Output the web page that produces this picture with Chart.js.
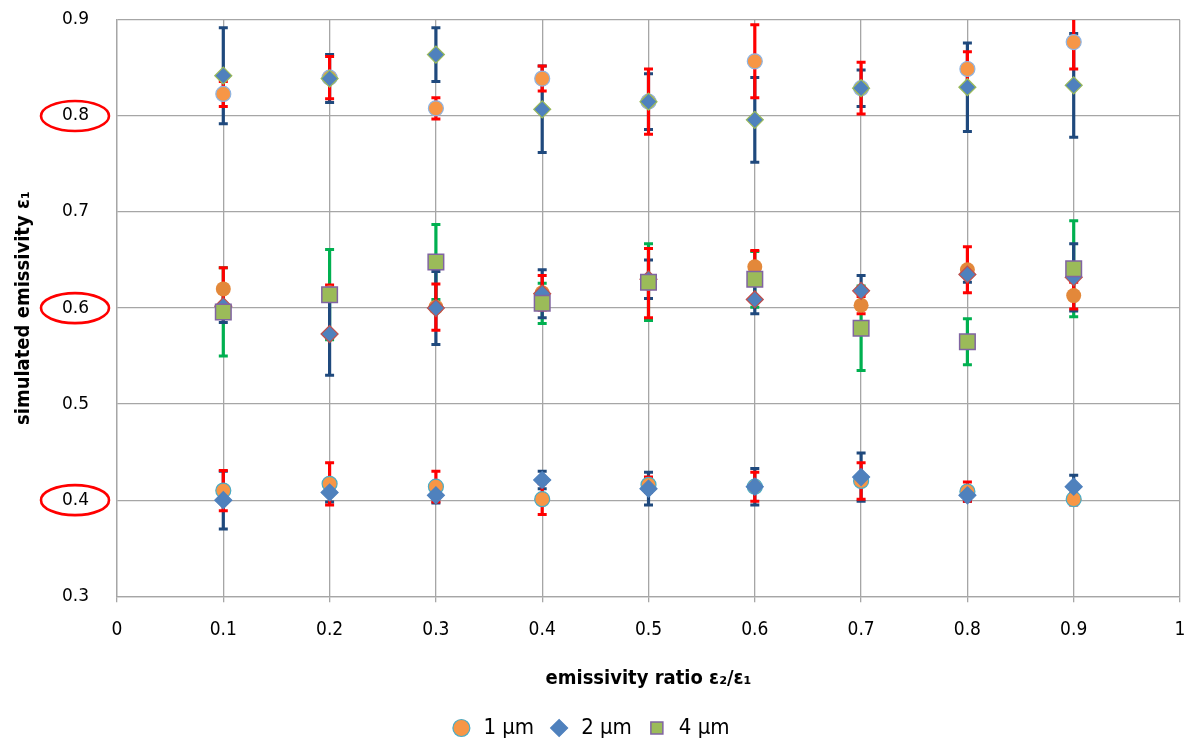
<!DOCTYPE html>
<html lang="en">
<head>
    <meta charset="UTF-8">
    <title>Simulated emissivity vs emissivity ratio</title>
    <style>
        html, body { margin: 0; padding: 0; background: #fff; }
        #wrap { width: 1188px; height: 742px; }
    </style>
</head>
<body>
    <div id="wrap"><canvas id="emChart"></canvas></div>
    <script src="https://cdn.jsdelivr.net/npm/chart.js"></script>
    <script>
        // emissivity ratio e2/e1 (x positions)
        const ratios = [0.1, 0.2, 0.3, 0.4, 0.5, 0.6, 0.7, 0.8, 0.9];
        const xTicks = [0, 0.1, 0.2, 0.3, 0.4, 0.5, 0.6, 0.7, 0.8, 0.9, 1];
        const yTicks = [0.3, 0.4, 0.5, 0.6, 0.7, 0.8, 0.9];
        const circledTicks = [0.8, 0.6, 0.4];

        // true emissivity 0.8
        const um1_08 = [0.823, 0.840, 0.808, 0.839, 0.815, 0.857, 0.829, 0.849, 0.877];
        const um1_08_err = [0.013, 0.022, 0.011, 0.013, 0.034, 0.038, 0.027, 0.018, 0.028];
        const um2_08 = [0.842, 0.839, 0.864, 0.807, 0.815, 0.796, 0.829, 0.830, 0.832];
        const um2_08_err = [0.050, 0.025, 0.028, 0.045, 0.029, 0.044, 0.019, 0.046, 0.054];

        // true emissivity 0.6
        const um1_06 = [0.620, 0.616, 0.601, 0.616, 0.626, 0.643, 0.603, 0.640, 0.613];
        const um1_06_err = [0.022, 0.008, 0.024, 0.018, 0.036, 0.017, 0.009, 0.024, 0.014];
        const um2_06 = [0.602, 0.573, 0.600, 0.615, 0.630, 0.609, 0.618, 0.635, 0.632];
        const um2_06_err = [0.017, 0.043, 0.038, 0.025, 0.020, 0.015, 0.016, 0.008, 0.035];
        const um4_06 = [0.596, 0.614, 0.648, 0.605, 0.627, 0.630, 0.579, 0.565, 0.641];
        const um4_06_err = [0.046, 0.047, 0.039, 0.021, 0.040, 0.029, 0.044, 0.024, 0.050];

        // true emissivity 0.4
        const um1_04 = [0.410, 0.417, 0.414, 0.401, 0.416, 0.414, 0.420, 0.409, 0.401];
        const um1_04_err = [0.021, 0.022, 0.016, 0.016, 0.008, 0.015, 0.019, 0.010, 0.006];
        const um2_04 = [0.400, 0.408, 0.405, 0.421, 0.412, 0.414, 0.424, 0.405, 0.414];
        const um2_04_err = [0.030, 0.010, 0.008, 0.009, 0.017, 0.019, 0.025, 0.006, 0.012];

        const narrow = "'Liberation Sans Narrow', 'DejaVu Sans Condensed', 'Noto Sans', sans-serif";

        function pts(ys) {
            return ratios.map((x, i) => ({ x: x, y: ys[i] }));
        }

        function circleSet(label, ys, err, fill, border, legend) {
            return {
                label: label, data: pts(ys), err: err, errColor: '#ff0000', errRank: 3, legend: legend,
                pointStyle: 'circle', pointRadius: 7.5, backgroundColor: fill,
                borderColor: border, pointBorderWidth: border ? 1.2 : 0, order: 3
            };
        }
        function diamondSet(label, ys, err, border, legend) {
            return {
                label: label, data: pts(ys), err: err, errColor: '#1f497d', errRank: 2, legend: legend,
                pointStyle: 'rectRot', pointRadius: 8.5, backgroundColor: '#4f81bd',
                borderColor: border, pointBorderWidth: 1.2, order: 2
            };
        }
        function squareSet(label, ys, err, legend) {
            return {
                label: label, data: pts(ys), err: err, errColor: '#00b050', errRank: 1, legend: legend,
                pointStyle: 'rect', pointRadius: 11, backgroundColor: '#9bbb59',
                borderColor: '#8064a2', pointBorderWidth: 1.5, order: 1
            };
        }

        // error bars, drawn under the markers
        const errorBars = {
            id: 'errorBars',
            beforeDatasetsDraw(chart) {
                const ctx = chart.ctx;
                const xs = chart.scales.x, ys = chart.scales.y;
                const area = chart.chartArea;
                ctx.save();
                ctx.beginPath();
                ctx.rect(area.left, area.top, area.right - area.left, area.bottom - area.top);
                ctx.clip();
                const sets = chart.data.datasets.slice().sort((a, b) => a.errRank - b.errRank);
                sets.forEach(ds => {
                    ctx.strokeStyle = ds.errColor;
                    ds.data.forEach((p, i) => {
                        const e = ds.err[i];
                        const px = xs.getPixelForValue(p.x);
                        const top = ys.getPixelForValue(p.y + e);
                        const bot = ys.getPixelForValue(p.y - e);
                        ctx.lineWidth = 3.2;
                        ctx.beginPath();
                        ctx.moveTo(px, top);
                        ctx.lineTo(px, bot);
                        ctx.stroke();
                        ctx.lineWidth = 3;
                        ctx.beginPath();
                        ctx.moveTo(px - 4.5, top); ctx.lineTo(px + 4.5, top);
                        ctx.moveTo(px - 4.5, bot); ctx.lineTo(px + 4.5, bot);
                        ctx.stroke();
                    });
                });
                ctx.restore();
            }
        };

        // red ellipses round the true emissivity tick labels
        const tickRings = {
            id: 'tickRings',
            afterDraw(chart) {
                const ctx = chart.ctx;
                const ys = chart.scales.y;
                ctx.save();
                ctx.strokeStyle = '#ff0000';
                ctx.lineWidth = 2.6;
                circledTicks.forEach(v => {
                    const py = ys.getPixelForValue(v);
                    ctx.beginPath();
                    ctx.ellipse(ys.right - 42, py, 34, 15, 0, 0, Math.PI * 2);
                    ctx.stroke();
                });
                ctx.restore();
            }
        };

        const ctx = document.getElementById('emChart').getContext('2d');
        const emChart = new Chart(ctx, {
            type: 'scatter',
            data: {
                datasets: [
                    circleSet('1 µm', um1_08, um1_08_err, '#f79646', '#8eb4e3', false),
                    circleSet('1 µm', um1_06, um1_06_err, '#e3883a', null, false),
                    circleSet('1 µm', um1_04, um1_04_err, '#f79646', '#4bacc6', true),
                    diamondSet('2 µm', um2_08, um2_08_err, '#9bbb59', false),
                    diamondSet('2 µm', um2_06, um2_06_err, '#c0504d', false),
                    diamondSet('2 µm', um2_04, um2_04_err, '#4f81bd', true),
                    squareSet('4 µm', um4_06, um4_06_err, true)
                ]
            },
            options: {
                responsive: true,
                maintainAspectRatio: false,
                animation: false,
                layout: { autoPadding: false, padding: { top: 20, right: 8, left: 0, bottom: -7 } },
                scales: {
                    x: {
                        type: 'linear',
                        min: 0, max: 1,
                        afterBuildTicks: s => { s.ticks = xTicks.map(v => ({ value: v })); },
                        afterFit: s => { s.paddingLeft = 0; s.paddingRight = 0; },
                        ticks: {
                            color: '#000',
                            font: { family: narrow, size: 19 },
                            padding: 16,
                            callback: v => String(v)
                        },
                        grid: { color: '#a6a6a6', lineWidth: 1.3, tickLength: 6, drawTicks: true },
                        border: { color: '#a6a6a6', width: 1.3 },
                        title: {
                            display: true,
                            text: 'emissivity ratio ε₂/ε₁',
                            color: '#000',
                            font: { family: narrow, size: 20, weight: 'bold' },
                            padding: { top: 10, bottom: 12 }
                        }
                    },
                    y: {
                        type: 'linear',
                        min: 0.3, max: 0.9,
                        afterBuildTicks: s => { s.ticks = yTicks.map(v => ({ value: v })); },
                        afterFit: s => { s.width = 117; s.paddingTop = 0; s.paddingBottom = 0; },
                        ticks: {
                            color: '#000',
                            font: { family: "'DejaVu Sans', Verdana, sans-serif", size: 17 },
                            padding: 28,
                            callback: v => v.toFixed(1)
                        },
                        grid: { color: '#a6a6a6', lineWidth: 1.3, drawTicks: false },
                        border: { color: '#a6a6a6', width: 1.3 },
                        title: {
                            display: true,
                            text: 'simulated emissivity ε₁',
                            color: '#000',
                            font: { family: narrow, size: 20, weight: 'bold' },
                            padding: { top: 12, bottom: 0 }
                        }
                    }
                },
                plugins: {
                    legend: {
                        position: 'bottom',
                        labels: {
                            usePointStyle: true,
                            color: '#000',
                            font: { family: narrow, size: 22 },
                            boxHeight: 12,
                            padding: 14,
                            sort: (a, b) => a.datasetIndex - b.datasetIndex,
                            filter: (item, data) => data.datasets[item.datasetIndex].legend
                        }
                    },
                    tooltip: { enabled: false }
                }
            },
            plugins: [errorBars, tickRings]
        });
    </script>
</body>
</html>
